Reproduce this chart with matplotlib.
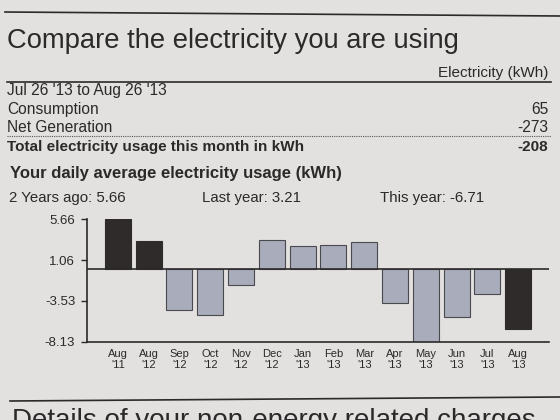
import matplotlib
matplotlib.use("Agg")
import matplotlib.pyplot as plt
from matplotlib.lines import Line2D

plt.rcParams['font.family'] = ['Liberation Sans', 'DejaVu Sans']

months = ["Aug\n'11", "Aug\n'12", "Sep\n'12", "Oct\n'12", "Nov\n'12", "Dec\n'12", "Jan\n'13",
          "Feb\n'13", "Mar\n'13", "Apr\n'13", "May\n'13", "Jun\n'13", "Jul\n'13", "Aug\n'13"]
usage = [5.66, 3.21, -4.5, -5.1, -1.75, 3.35, 2.6, 2.8, 3.05, -3.8, -8.13, -5.3, -2.75, -6.71]
same_month = [True, True, False, False, False, False, False, False, False, False, False, False, False, True]
yticks = [5.66, 1.06, -3.53, -8.13]

row_labels = ["Jul 26 '13 to Aug 26 '13", "Consumption", "Net Generation"]
row_values = ["", "65", "-273"]
total_label = "Total electricity usage this month in kWh"
total_value = "-208"
summary = ["2 Years ago: 5.66", "Last year: 3.21", "This year: -6.71"]

W, H = 560, 420
bg = '#e3e1df'
ink = '#2b2929'
dark_bar = '#2f2b2b'
light_bar = '#a9acba'


def fx(x):
    return x / W


def fy(y):
    return 1 - y / H


fig = plt.figure(figsize=(5.6, 4.2), dpi=100, facecolor=bg)


def hline(x0, x1, y0, y1, **kw):
    fig.add_artist(Line2D([fx(x0), fx(x1)], [fy(y0), fy(y1)], transform=fig.transFigure, **kw))


# Cabecera
hline(5, 560, 12, 16, color=ink, lw=1.2)
fig.text(fx(7), fy(48), "Compare the electricity you are using", fontsize=19.7, color=ink, va='baseline')
fig.text(fx(548), fy(76.5), "Electricity (kWh)", fontsize=11, color=ink, ha='right', va='baseline')
hline(7, 551, 82, 82, color=ink, lw=1.2)

baselines = [95.5, 114, 132.5]
for lab, val, yb in zip(row_labels, row_values, baselines):
    fig.text(fx(7), fy(yb), lab, fontsize=11.2, color=ink, va='baseline')
    if val:
        fig.text(fx(548), fy(yb), val, fontsize=11.2, color=ink, ha='right', va='baseline')

hline(7, 551, 136, 136, color='#555', lw=0.8, linestyle=(0, (1, 1)))
fig.text(fx(7), fy(151), total_label, fontsize=11, color=ink, va='baseline', fontweight='bold')
fig.text(fx(548), fy(151), total_value, fontsize=11, color=ink, ha='right', va='baseline', fontweight='bold')

fig.text(fx(10), fy(177.7), "Your daily average electricity usage (kWh)", fontsize=12,
         fontweight='bold', color=ink, va='baseline')
for txt, x in zip(summary, [9, 202, 380]):
    fig.text(fx(x), fy(201.7), txt, fontsize=10.8, color=ink, va='baseline')

# Grafico de barras
ax = fig.add_axes([fx(87), fy(342), fx(549) - fx(87), (342 - 219) / H])
ax.set_facecolor('none')
pos = list(range(len(months)))
colors = [dark_bar if s else light_bar for s in same_month]
edges = [dark_bar if s else '#4a4a4e' for s in same_month]
ax.bar(pos, usage, width=0.84, color=colors, edgecolor=edges, linewidth=0.8, zorder=2)
ax.axhline(0, color=ink, lw=1.2, zorder=3)

ax.set_xlim(-1, len(months))
ax.set_ylim(-8.13, 5.66)
ax.set_yticks(yticks)
ax.set_yticklabels([f'{v:.2f}' for v in yticks])
ax.set_xticks(pos)
ax.set_xticklabels(months, fontsize=8, linespacing=1.1)
ax.tick_params(axis='x', length=0, pad=5, colors=ink)
ax.tick_params(axis='y', length=4.5, width=1, pad=4, labelsize=9.5, colors=ink)
for side in ['top', 'right']:
    ax.spines[side].set_visible(False)
for side in ['left', 'bottom']:
    ax.spines[side].set_color(ink)
    ax.spines[side].set_linewidth(1.2)

# Siguiente seccion (cortada en el borde, igual que en la foto)
hline(10, 560, 401, 397, color=ink, lw=1.2)
fig.text(fx(12), fy(428), "Details of your non-energy related charges", fontsize=20, color=ink, va='baseline')

fig.savefig('out.png', dpi=100, facecolor=bg)
